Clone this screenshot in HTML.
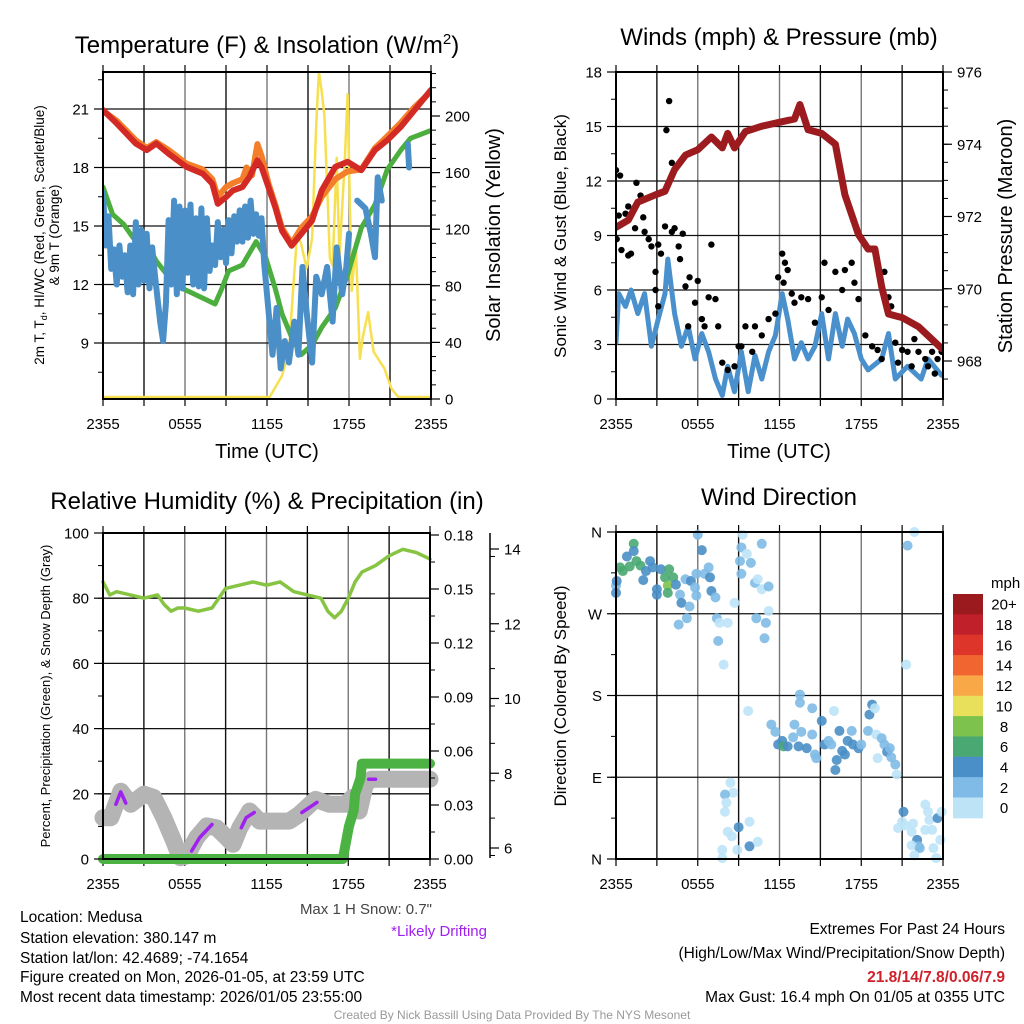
<!DOCTYPE html>
<html><head><meta charset="utf-8"><title>Medusa Mesonet</title>
<style>
html,body{margin:0;padding:0;background:#fff;}
svg{display:block;font-family:"Liberation Sans",sans-serif;}
</style></head>
<body>
<svg id="fig" width="1024" height="1024" viewBox="0 0 1024 1024" xmlns="http://www.w3.org/2000/svg">
<rect width="1024" height="1024" fill="#fff"/>
<text x="267" y="53" font-size="24" text-anchor="middle">Temperature (F) &amp; Insolation (W/m<tspan font-size="15" dy="-9">2</tspan><tspan dy="9">)</tspan></text>
<text x="779" y="45" font-size="24" text-anchor="middle">Winds (mph) &amp; Pressure (mb)</text>
<text x="267" y="509" font-size="24" text-anchor="middle">Relative Humidity (%) &amp; Precipitation (in)</text>
<text x="779" y="505" font-size="24" text-anchor="middle">Wind Direction</text>

<text font-size="13.5" text-anchor="middle" transform="translate(44,235) rotate(-90)">2m T, T<tspan font-size="9" dy="3">d</tspan><tspan dy="-3">, HI/WC (Red, Green, Scarlet/Blue)</tspan></text>
<text font-size="13.5" text-anchor="middle" transform="translate(59,235) rotate(-90)">&amp; 9m T (Orange)</text>
<text font-size="20" text-anchor="middle" transform="translate(500,235) rotate(-90)">Solar Insolation (Yellow)</text>
<text font-size="17" text-anchor="middle" transform="translate(566,236) rotate(-90)">Sonic Wind &amp; Gust (Blue, Black)</text>
<text font-size="20" text-anchor="middle" transform="translate(1012,236) rotate(-90)">Station Pressure (Maroon)</text>
<text font-size="13" text-anchor="middle" transform="translate(50,696) rotate(-90)">Percent, Precipitation (Green), &amp; Snow Depth (Gray)</text>
<text font-size="17" text-anchor="middle" transform="translate(566,696) rotate(-90)">Direction (Colored By Speed)</text>
<text x="267" y="458" font-size="20" text-anchor="middle">Time (UTC)</text>
<text x="779" y="458" font-size="20" text-anchor="middle">Time (UTC)</text>

<text x="432" y="914" font-size="15" fill="#444" text-anchor="end">Max 1 H Snow: 0.7"</text>
<text x="487" y="936" font-size="15" fill="#a020f0" text-anchor="end">*Likely Drifting</text>

<g font-size="15.5">
<text x="20" y="922">Location: Medusa</text>
<text x="20" y="943">Station elevation: 380.147 m</text>
<text x="20" y="963">Station lat/lon: 42.4689; -74.1654</text>
<text x="20" y="982">Figure created on Mon, 2026-01-05, at 23:59 UTC</text>
<text x="20" y="1002">Most recent data timestamp: 2026/01/05 23:55:00</text>
</g>
<g font-size="15.5" text-anchor="end">
<text x="1005" y="934">Extremes For Past 24 Hours</text>
<text x="1005" y="958">(High/Low/Max Wind/Precipitation/Snow Depth)</text>
<text x="1005" y="982" fill="#d0202a" font-weight="bold">21.8/14/7.8/0.06/7.9</text>
<text x="1005" y="1002">Max Gust: 16.4 mph On 01/05 at 0355 UTC</text>
</g>
<text x="512" y="1019" font-size="12" fill="#999" text-anchor="middle">Created By Nick Bassill Using Data Provided By The NYS Mesonet</text>
</svg>
<script>
// ---------- data ----------
const timeTickLabels = ["2355","0555","1155","1755","2355"];
const timeTickHours = [0,6,12,18,24];

const redHours = [0,1,2.4,3.2,3.9,4.8,6.1,7.3,8.0,8.4,9.0,9.5,10.2,10.7,11.3,11.6,12.1,12.6,13.1,13.8,14.5,15.3,16.0,17.0,17.9,18.9,19.9,20.8,21.8,22.8,24];
const redTemp = [20.95,20.26,19.23,18.89,19.23,18.71,18.03,17.68,17.17,16.14,16.48,16.82,17.0,17.5,18.37,18.03,17.0,15.97,14.76,13.99,14.59,15.28,16.82,18.03,18.29,17.86,18.89,19.4,20.09,20.95,21.98];
const orangeHours = [0,1,2.4,3.2,3.9,4.8,6.1,7.3,8.0,8.4,9.0,9.5,10.2,10.5,10.9,11.3,11.6,12.1,12.6,13.1,13.8,14.5,15.3,16.0,17.0,17.9,18.9,19.9,20.8,21.8,22.8,24];
const orangeTemp = [20.9,20.4,19.4,19.0,19.3,18.9,18.2,17.9,17.4,16.5,17.0,17.2,17.4,18.0,17.6,19.2,18.6,17.2,16.1,14.9,14.1,14.9,15.5,16.5,17.4,17.8,17.9,19.0,19.6,20.3,21.1,21.9];
const greenHours = [0,0.7,1.5,2.2,3.2,3.9,4.8,5.8,7.3,8.2,8.7,9.2,10.2,11.2,11.9,12.6,13.1,13.8,14.5,15.3,16.0,17.0,17.9,18.9,19.9,20.8,21.8,22.5,24];
const greenTemp = [17.0,15.6,15.1,14.4,14.1,13.2,12.4,11.8,11.3,11.0,11.8,12.7,13.0,14.2,13.4,11.8,10.5,9.3,8.4,8.9,9.8,10.8,12.5,14.9,16.1,17.9,18.9,19.5,19.9];
const blueHours = [0,0.2,0.4,0.6,0.8,1.0,1.2,1.4,1.6,1.8,2.0,2.2,2.4,2.6,2.8,3.0,3.2,3.4,3.6,3.8,4.0,4.2,4.4,4.6,4.8,5.0,5.2,5.4,5.6,5.8,6.0,6.2,6.4,6.6,6.8,7.0,7.2,7.4,7.6,7.8,8.0,8.2,8.4,8.6,8.8,9.0,9.2,9.4,9.6,9.8,10.0,10.2,10.4,10.6,10.8,11.0,11.2,11.4,11.6,11.8,12.0,12.4,12.7,13,13.3,13.6,14,14.3,14.6,14.9,15.3,15.6,16,16.4,16.8,17.1,17.5,17.8,18,18.3,18.6,19.2,19.6,19.9,20.1,20.4,20.6,22.2,22.3,22.4];
const blueTemp = [16.7,14.0,15.5,12.8,13.8,12.0,14.0,12.4,13.5,11.6,14.0,11.5,15.2,12.0,14.8,12.2,14.6,11.8,13.9,12.5,11.2,10.0,9.1,11.0,15.3,12.0,16.3,11.5,16.0,11.8,15.8,12.6,16.1,12.0,15.4,11.9,15.9,11.8,15.4,12.7,14.0,13.0,15.2,13.4,14.8,13.1,15.3,13.6,15.5,14.2,15.8,14.2,16.0,14.4,16.3,14.6,15.6,14.5,15.4,13.0,11.5,8.4,10.8,7.7,9.1,8.0,10.1,8.4,12.9,10.6,8.0,12.4,11.5,12.9,10.1,13.9,11.5,12.9,14.6,null,16.3,15.9,14.6,13.4,17.5,16.3,null,null,19.2,18.0];
const tempTicks = [9,12,15,18,21];
const solarHours = [0,12.2,13.1,13.6,13.9,14.2,14.5,14.9,15.3,15.6,15.8,16.0,16.2,16.6,16.8,17.1,17.3,17.7,17.9,18.2,18.5,18.8,19.0,19.4,19.8,20.6,21.1,21.6,24];
const solarValues = [0,0,15,32,75,115,108,91,112,192,230,216,199,98,93,169,98,169,214,75,108,27,42,60,32,20,6,0,0];
const solarTicks = [0,40,80,120,160,200];

const presHours = [0,0.9,1.6,2.9,3.6,4.3,5.1,6.0,7.0,7.8,8.2,8.7,9.5,10.7,11.9,13.1,13.5,14.1,15.1,16.1,16.8,17.8,18.5,19.0,19.5,20.0,21.0,22.2,23.9];
const presValues = [971.7,971.9,972.4,972.6,972.7,973.3,973.7,973.85,974.2,973.9,974.3,973.9,974.35,974.5,974.6,974.7,975.1,974.4,974.3,974.0,972.6,971.5,971.1,971.1,970.05,969.3,969.2,968.95,968.35];
const windHours = [0,0.2,0.7,1.1,1.6,2.1,2.6,3.1,3.6,3.8,4.3,4.8,5.3,5.8,6.3,6.8,7.3,7.8,8.2,8.7,9.2,9.7,10.2,10.7,11.2,11.7,12.2,12.6,13.1,13.6,14.1,14.6,15.1,15.6,16.1,16.6,17.0,17.5,18.0,18.5,19.5,20.0,20.5,21.4,22.4,22.9,23.9];
const windValues = [3.1,5.8,5.1,6.0,4.7,5.8,2.9,4.4,5.8,7.7,4.7,2.9,4.0,2.2,3.6,2.6,1.1,0.2,1.8,0.4,2.6,0.4,2.4,1.1,2.6,3.5,5.8,4.4,2.2,3.1,2.2,2.9,4.7,2.2,4.7,2.9,4.4,3.6,2.2,1.6,2.2,3.6,1.1,1.8,1.1,2.2,1.3];
const gustHours = [0,0.3,0.05,0.2,0.4,0.7,0.9,1.1,0.9,1.5,1.8,2.0,1.4,2.1,2.4,2.6,2.9,3.1,3.3,3.6,3.7,3.9,4.1,4.1,4.3,4.6,4.7,4.9,2.9,3.1,5.1,5.4,5.8,5.3,6.0,6.3,6.5,6.8,7.0,7.3,7.5,7.8,8.2,8.7,9.0,9.2,9.5,10.0,10.2,10.7,11.2,11.7,11.9,12.2,12.4,12.6,12.3,12.9,13.1,13.6,14.1,14.6,15.1,15.3,15.6,16.1,16.6,16.8,17.3,17.5,17.8,18.3,18.8,19.2,19.7,20.0,20.2,20.5,21.0,21.4,21.9,22.2,22.7,23.2,23.6,23.9,19.5,20.7,21.7,22.9,23.4];
const gustValues = [12.6,12.3,8.8,10.1,8.2,10.2,7.9,8.0,10.6,11.9,11.2,10.0,9.4,9.2,8.8,8.4,7.0,8.5,8.0,9.5,14.8,16.4,13.0,9.2,9.4,8.4,7.7,9.1,6.0,5.1,6.2,6.7,5.3,4.0,6.5,4.4,4.0,5.6,8.5,5.5,4.0,2.0,1.6,1.8,2.9,2.9,4.0,2.6,4.0,3.5,4.4,4.7,6.7,8.0,7.5,7.1,6.4,5.8,5.3,5.6,5.5,4.2,5.6,7.5,4.9,7.0,6.0,7.1,7.5,6.4,5.5,3.5,2.9,2.7,7.0,5.6,5.1,3.1,2.7,2.6,3.3,2.6,2.2,2.6,2.2,2.6,2.2,2.0,1.8,1.8,1.4];
const windTicks = [0,3,6,9,12,15,18];
const presTicks = [968,970,972,974,976];

const rhHours = [0,0.5,1,2,3,4,4.5,5,5.5,6,7,8,8.5,9,10,11,12,13,14,15,16,16.5,17,17.5,18,18.5,19,20,21,22,23,24];
const rhValues = [85,81,82,81,80,81,78,76,77,77,76,77,80,83,84,85,84,85,82,81,80,76,74,76,80,85,88,90,93,95,94,92];
const precipHours = [0,17.6,18.05,18.4,18.5,18.9,19.0,24];
const precipValues = [0,0,0.018,0.027,0.036,0.045,0.053,0.053];
const snowHours = [0,0.58,1.31,2.04,3.0,3.73,4.46,5.19,5.67,6.16,6.88,7.61,8.34,9.07,9.55,10.04,10.76,11.49,13.67,14.4,15.6,16.6,17.8,18.3,18.8,19.25,19.7,24];
const snowDepth = [6.81,6.81,7.52,7.17,7.44,7.35,6.81,6.19,5.74,5.79,6.28,6.59,6.54,6.28,6.10,6.54,6.99,6.72,6.72,6.9,7.30,7.17,7.17,7.35,6.99,7.70,7.84,7.84];
const driftSegments = [
  [[0.95,7.17],[1.3,7.5],[1.67,7.2]],
  [[6.5,5.92],[7.1,6.28],[8.0,6.63]],
  [[10.15,6.54],[10.5,6.81],[11.1,6.95]],
  [[14.6,6.95],[15.7,7.22]],
  [[19.5,7.84],[20.0,7.84]]
];
const rhTicks = [0,20,40,60,80,100];
const precipTicks = ["0.00","0.03","0.06","0.09","0.12","0.15","0.18"];
const snowTicks = [6,8,10,12,14];

const dirLabels = ["N","E","S","W","N"];
const dirDegrees = [0,90,180,270,360];
const dirHours = [0,0,0.05,0.3,0.5,0.8,1.0,1.3,1.3,1.5,1.8,2.0,2.2,2.5,2.7,3.0,3.0,3.3,3.6,3.8,3.9,3.8,4.2,4.4,4.7,4.8,5.1,4.6,5.2,5.4,5.5,5.8,5.9,6.0,6.3,5.9,6.5,6.8,6.9,7.0,7.3,7.4,7.6,8.2,7.5,7.9,8.7,9.1,9.2,9.2,9.3,9.6,9.9,10.2,10.4,10.7,10.7,11.2,10.3,11.0,11.2,10.9,
 11.4,11.7,11.9,12.2,12.3,12.6,13.0,13.1,13.5,13.5,13.4,13.6,14.0,14.4,14.4,14.6,14.7,15.1,15.3,15.6,15.8,16.0,16.1,16.2,16.4,16.6,16.8,17.0,17.3,17.4,17.8,18.0,18.5,18.6,18.8,19.0,19.1,19.2,19.5,19.7,19.9,20.1,20.2,20.5,20.6,9.7,
 21.4,21.9,21.3,21.1,21.0,20.7,21.2,21.7,21.8,22.1,22.2,21.7,22.3,22.7,22.9,23.0,23.2,23.3,23.6,23.8,23.9,22.7,21.9,23.5,
 8.4,8.6,8.0,8.1,8.0,8.2,8.5,9.0,8.9,7.8,7.8,9.8,9.8,10.4];
const dirValues = [301,293,306,321,317,333,322,347,339,328,323,307,317,328,321,291,297,319,310,301,319,293,310,302,291,282,308,258,265,278,306,299,314,357,340,290,314,321,310,295,288,265,260,260,240,214,282,328,314,343,357,336,326,304,308,297,347,300,265,260,273,243,
 148,140,126,130,124,124,134,148,181,172,124,140,122,166,137,115,111,152,126,130,126,163,98,109,141,119,115,130,141,126,122,126,141,159,170,166,137,111,133,126,118,122,112,104,93,163,
 345,360,214,52,41,34,37,30,39,21,14,15,12,60,52,43,32,12,45,21,52,32,4,1,
 84,73,71,62,52,30,25,35,10,10,1,41,14,19];
const dirSpeeds = [3,5,5,7,7,5,7,7,5,7,7,5,5,5,5,5,5,5,7,9,7,7,7,5,3,5,3,3,3,3,5,3,3,3,5,3,3,3,5,5,3,3,1,1,3,1,1,3,3,3,1,1,3,3,1,1,3,3,3,3,1,3,
 3,3,5,5,7,5,3,3,3,3,5,3,5,3,3,3,3,5,5,3,3,1,5,5,5,5,5,5,3,5,5,3,3,5,5,1,1,1,3,3,5,3,3,3,1,1,
 3,1,1,5,1,1,1,1,1,5,3,1,3,1,1,1,1,1,5,1,1,1,1,1,
 1,1,3,1,1,1,1,5,1,1,1,1,5,1];
const speedBinLabels = ["0","2","4","6","8","10","12","14","16","18","20+"];
const speedBinColors = ["#bde3f7","#7fbbe6","#4a8fc7","#4aa872","#7cc24d","#e8e05a","#f9a848","#f06530","#dd3529","#c0202a","#9b1a1e"];

// ---------- helpers ----------
const NS = "http://www.w3.org/2000/svg";
const svg = document.getElementById("fig");
function mk(tag, attrs, parent){
  const e = document.createElementNS(NS, tag);
  for (const k in attrs) e.setAttribute(k, attrs[k]);
  (parent || svg).appendChild(e);
  return e;
}
function lin(d0,d1,r0,r1){ return v => r0 + (v-d0)*(r1-r0)/(d1-d0); }
function pathFrom(xs, ys, sx, sy){
  let d = "", pen = false;
  for (let i=0;i<xs.length;i++){
    if (ys[i]===null || ys[i]===undefined){ pen=false; continue; }
    d += (pen?"L":"M") + sx(xs[i]).toFixed(1) + "," + sy(ys[i]).toFixed(1);
    pen = true;
  }
  return d;
}

function frame(p, name){
  const g = mk("g", {});
  
  
  for (let h=3; h<24; h+=3){
    const l = mk("line", {x1:p.sx(h), x2:p.sx(h), y1:p.top, y2:p.bottom, stroke: (h%6===0)?"#777":"#111", "stroke-width":1.4}, g);
    
    
  }
  for (let h=0; h<=24; h+=3){
    const t = mk("line", {x1:p.sx(h), x2:p.sx(h), y1:p.bottom, y2:p.bottom+7, stroke:"#000", "stroke-width":1.2}, g);
    
    
    const tt = mk("line", {x1:p.sx(h), x2:p.sx(h), y1:p.top, y2:p.top-7, stroke:"#000", "stroke-width":1.2}, g);
    
    
  }
  timeTickHours.forEach((h,i)=>{
    const t = mk("text", {x:p.sx(h), y:p.bottom+30, "font-size":15, "text-anchor":"middle"}, g);
    
    
    t.textContent = timeTickLabels[i];
  });
  return g;
}
function border(p, name){
  const r = mk("rect", {x:p.left, y:p.top, width:p.right-p.left, height:p.bottom-p.top, fill:"none", stroke:"#000", "stroke-width":2});
  
  
}
function hgrid(p, ticks, sy, name){
  ticks.forEach(v=>{
    const l = mk("line", {x1:p.left, x2:p.right, y1:sy(v), y2:sy(v), stroke:"#111", "stroke-width":1.3});
    
    
  });
}
function yTicks(x, ticks, labels, sy, side, name, minorStep, lo, hi, top, bottom){
  const dir = side==="left" ? -1 : 1;
  if (minorStep){
    for (let v=lo; v<=hi+1e-9; v+=minorStep){
      const y = sy(v);
      if (y < top-1 || y > bottom+1) continue;
      const m = mk("line", {x1:x, x2:x+dir*5, y1:y, y2:y, stroke:"#000", "stroke-width":1});
      
      
    }
  }
  ticks.forEach((v,i)=>{
    const y = sy(v);
    const t = mk("line", {x1:x, x2:x+dir*9, y1:y, y2:y, stroke:"#000", "stroke-width":1.2});
    
    
    const lab = mk("text", {x:x+dir*14, y:y+5.5, "font-size":15, "text-anchor": side==="left"?"end":"start"});
    
    
    lab.textContent = labels[i];
  });
}
function line(xs, ys, sx, sy, color, w, name, op){
  const e = mk("path", {d:pathFrom(xs,ys,sx,sy), fill:"none", stroke:color, "stroke-width":w, "stroke-linejoin":"round", "stroke-linecap":"round", opacity: op||1});
  
  
  return e;
}

// ---------- panel 1: temperature ----------
const p1 = {left:103, right:431, top:72, bottom:399};
p1.sx = lin(0,24,p1.left,p1.right);
const tY = lin(9,21,343,109);
const sY = lin(0,200,397,114);
frame(p1, "temp");
hgrid(p1, tempTicks, tY, "temp");
const clip1 = mk("clipPath", {id:"c1"}); mk("rect",{x:p1.left,y:p1.top,width:p1.right-p1.left,height:p1.bottom-p1.top},clip1);
const g1 = mk("g", {"clip-path":"url(#c1)"});


g1.appendChild(line(solarHours, solarValues, p1.sx, sY, "#f7e050", 2.5, "solar-insolation-line"));
g1.appendChild(line(greenHours, greenTemp, p1.sx, tY, "#4cae3e", 5, "dewpoint-line"));
g1.appendChild(line(blueHours, blueTemp, p1.sx, tY, "#4a8fc7", 6, "heat-index-wind-chill-line"));
g1.appendChild(line(orangeHours, orangeTemp, p1.sx, tY, "#f37f2a", 6, "temp-9m-line"));
g1.appendChild(line(redHours, redTemp, p1.sx, tY, "#d42a25", 6, "temp-2m-line"));
border(p1, "temp");
yTicks(p1.left, tempTicks, tempTicks.map(String), tY, "left", "temp-y", 1.5, 7.5, 22.5, p1.top, p1.bottom);
yTicks(p1.right, solarTicks, solarTicks.map(String), lin(0,200,399,116), "right", "solar-y", 10, 0, 230, p1.top, p1.bottom);

// ---------- panel 2: wind ----------
const p2 = {left:616, right:943, top:72, bottom:399};
p2.sx = lin(0,24,p2.left,p2.right);
const wY = lin(0,18,399,72);
const pY = lin(968,976,361,72);
frame(p2, "wind");
hgrid(p2, windTicks, wY, "wind");
const clip2 = mk("clipPath", {id:"c2"}); mk("rect",{x:p2.left,y:p2.top-2,width:p2.right-p2.left,height:p2.bottom-p2.top+4},clip2);
const g2 = mk("g", {"clip-path":"url(#c2)"});


g2.appendChild(line(windHours, windValues, p2.sx, wY, "#4a90cc", 5, "sonic-wind-line"));
gustHours.forEach((h,i)=>{
  const c = mk("circle", {cx:p2.sx(h), cy:wY(gustValues[i]), r:3.2, fill:"#000"}, g2);
  
  
});
g2.appendChild(line(presHours, presValues, p2.sx, pY, "#9b1b1e", 7, "pressure-line"));
border(p2, "wind");
yTicks(p2.left, windTicks, windTicks.map(String), wY, "left", "wind-y", 1.5, 0, 18, p2.top, p2.bottom);
yTicks(p2.right, presTicks, presTicks.map(String), pY, "right", "pressure-y", 0.5, 967.5, 976, p2.top, p2.bottom);

// ---------- panel 3: RH ----------
const p3 = {left:103, right:430, top:533, bottom:859};
p3.sx = lin(0,24,p3.left,p3.right);
const rY = lin(0,100,859,533);
const prY = lin(0,0.18,859,535);
const snY = lin(6,14,848,549);
frame(p3, "rh");
hgrid(p3, rhTicks, rY, "rh");
const clip3 = mk("clipPath", {id:"c3"}); mk("rect",{x:p3.left-12,y:p3.top,width:p3.right-p3.left+24,height:p3.bottom-p3.top+12},clip3);
const g3 = mk("g", {"clip-path":"url(#c3)"});


g3.appendChild(line(snowHours, snowDepth, p3.sx, snY, "#b4b4b4", 17, "snow-depth-line"));
driftSegments.forEach(seg=>{
  g3.appendChild(line(seg.map(s=>s[0]), seg.map(s=>s[1]), p3.sx, snY, "#a020f0", 3.5, "drifting-segment"));
});
g3.appendChild(line(precipHours, precipValues, p3.sx, prY, "#4cb244", 10, "precipitation-line"));
g3.appendChild(line(rhHours, rhValues, p3.sx, rY, "#86c441", 3.5, "relative-humidity-line"));
border(p3, "rh");
yTicks(p3.left, rhTicks, rhTicks.map(String), rY, "left", "rh-y", 10, 0, 100, p3.top, p3.bottom);
yTicks(p3.right, precipTicks.map(Number), precipTicks, prY, "right", "precip-y", 0.015, 0, 0.18, p3.top, p3.bottom);
const sAx = mk("line", {x1:490, x2:490, y1:533, y2:858, stroke:"#000", "stroke-width":1.5});


yTicks(490, snowTicks, snowTicks.map(String), snY, "right", "snow-y", 1, 5.8, 14.4, 535, 858);

// ---------- panel 4: direction ----------
const p4 = {left:616, right:943, top:532, bottom:859};
p4.sx = lin(0,24,p4.left,p4.right);
const dY = lin(0,360,859,532);
frame(p4, "direction");
hgrid(p4, dirDegrees, dY, "direction");
const clip4 = mk("clipPath", {id:"c4"}); mk("rect",{x:p4.left-6,y:p4.top-6,width:p4.right-p4.left+12,height:p4.bottom-p4.top+12},clip4);
const g4 = mk("g", {"clip-path":"url(#c4)"});


dirHours.forEach((h,i)=>{
  const bin = Math.min(10, Math.floor(dirSpeeds[i]/2));
  const c = mk("circle", {cx:p4.sx(h), cy:dY(dirValues[i]), r:5, fill:speedBinColors[bin], opacity:0.9}, g4);
  
  
});
border(p4, "direction");
yTicks(p4.left, dirDegrees, dirLabels, dY, "left", "direction-y", 45, 0, 360, p4.top, p4.bottom);

// colorbar
const cbTop = 594, cbH = 20.35;
const cbTitle = mk("text", {x:991, y:588, "font-size":15, "text-anchor":"start"});


cbTitle.textContent = "mph";
for (let k=0;k<speedBinColors.length;k++){
  const idx = speedBinColors.length-1-k;
  const r = mk("rect", {x:953, y:cbTop + k*cbH, width:30, height:cbH+0.5, fill:speedBinColors[idx]});
  
  
  const t = mk("text", {x:1004, y:cbTop + k*cbH + cbH/2 + 5.5, "font-size":15, "text-anchor":"middle"});
  
  
  t.textContent = speedBinLabels[idx];
}
</script>
</body></html>
